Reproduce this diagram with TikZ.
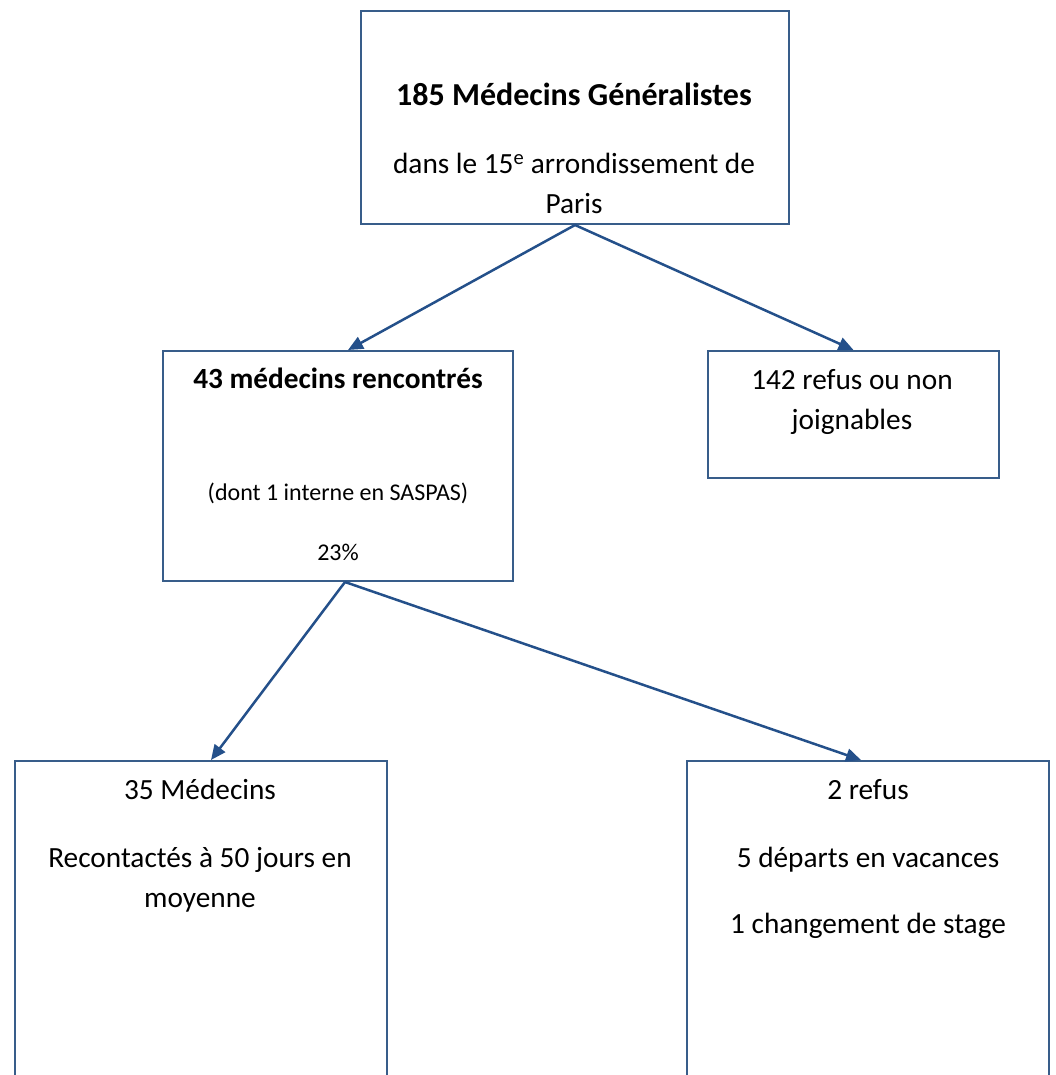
\documentclass[tikz,border=0pt]{standalone}
\usepackage{fontspec}
\setmainfont{Carlito}
\usetikzlibrary{arrows.meta}
\definecolor{vboxblue}{HTML}{385D8A}
\definecolor{varrowblue}{HTML}{24508A}
\tikzset{
	box/.style={draw=vboxblue, line width=2bp, rectangle, inner sep=0pt, anchor=north west},
	arrow/.style={color=varrowblue, line width=2.5bp, -{Triangle[length=15bp,width=13bp]}},
	txt/.style={anchor=base, inner sep=0pt, font=\fontsize{29.3bp}{35bp}\selectfont},
	boldtxt/.style={txt, font=\fontsize{29.3bp}{35bp}\selectfont\bfseries},
	titletxt/.style={txt, font=\fontsize{32bp}{38bp}\selectfont\bfseries},
	smalltxt/.style={txt, font=\fontsize{24bp}{29bp}\selectfont},
}

\begin{document}
\begin{tikzpicture}[x=1bp, y=-1bp]
		\clip (0,0) rectangle (1056,1075);
		% boxes
		\node[box, minimum width=428bp, minimum height=213bp] (mg) at (360,10) {};
		\node[box, minimum width=350bp, minimum height=230bp] (met) at (162,350) {};
		\node[box, minimum width=291bp, minimum height=127bp] (refus) at (707,350) {};
		\node[box, minimum width=372bp, minimum height=340bp] (recont) at (14,760) {};
		\node[box, minimum width=362bp, minimum height=340bp] (perdus) at (686,760) {};
		% texts
		\node[titletxt] (mgtitle) at (574,105) {185 Médecins Généralistes};
		\node[txt] (mgline1) at (574,173) {dans le 15\textsuperscript{e} arrondissement de};
		\node[txt] (mgline2) at (574,213) {Paris};
		\node[boldtxt] (mettitle) at (338,388) {43 médecins rencontrés};
		\node[smalltxt] (metline1) at (338,500) {(dont 1 interne en SASPAS)};
		\node[smalltxt] (metline2) at (338,560) {23\%};
		\node[txt] (refusline1) at (852,389) {142 refus ou non};
		\node[txt] (refusline2) at (852,429) {joignables};
		\node[txt] (recontline1) at (200,799) {35 Médecins};
		\node[txt] (recontline2) at (200,867) {Recontactés à 50 jours en};
		\node[txt] (recontline3) at (200,907) {moyenne};
		\node[txt] (perdusline1) at (868,799) {2 refus};
		\node[txt] (perdusline2) at (868,867) {5 départs en vacances};
		\node[txt] (perdusline3) at (868,933) {1 changement de stage};
		% arrows
		\draw[arrow] (mg.south) -- ([xshift=10bp]met.north);
		\draw[arrow] (mg.south) -- (refus.north);
		\draw[arrow] ([xshift=7bp]met.south) -- ([xshift=10bp]recont.north);
		\draw[arrow] ([xshift=7bp]met.south) -- ([xshift=-7bp]perdus.north);
	\end{tikzpicture}
\end{document}
